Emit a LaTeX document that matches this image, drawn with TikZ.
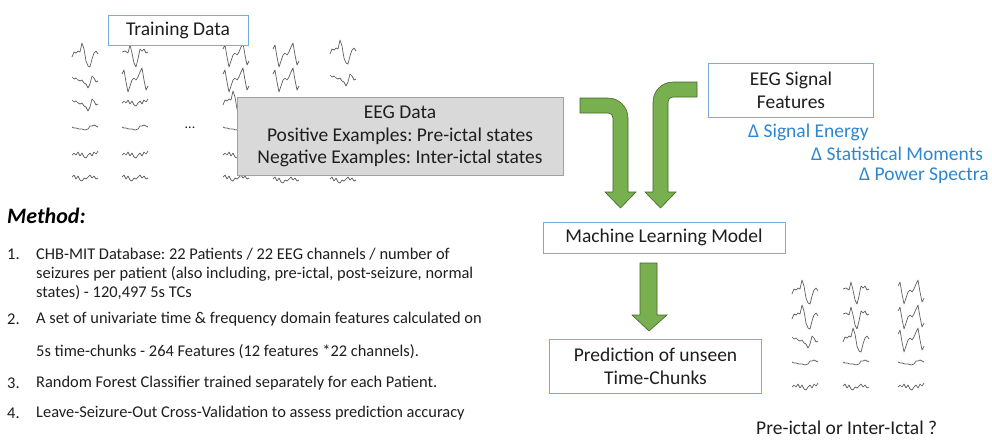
\documentclass[tikz,border=0pt]{standalone}
\usepackage{fontspec}
\setmainfont{Carlito}
\frenchspacing
\definecolor{boxblue}{RGB}{120,170,220}
\definecolor{txt}{RGB}{30,30,30}
\definecolor{dblue}{RGB}{46,134,206}
\definecolor{grayfill}{RGB}{217,217,217}
\definecolor{grayedge}{RGB}{160,160,160}
\definecolor{agreen}{RGB}{120,176,80}
\definecolor{agreenedge}{RGB}{70,100,45}
\definecolor{wavec}{RGB}{95,95,95}
\tikzset{
  bluebox/.style={draw=boxblue, line width=0.9pt, fill=white, align=center, text=txt, font=\fontsize{19.5}{23}\selectfont, inner sep=0pt},
  graybox/.style={draw=grayedge, line width=0.9pt, fill=grayfill, align=center, text=txt, font=\fontsize{19.5}{22.5}\selectfont, inner sep=0pt},
  feat/.style={text=dblue, font=\fontsize{19.5}{22}\selectfont, anchor=west, inner sep=0pt},
  item/.style={text=txt, font=\fontsize{16.4}{19}\selectfont, anchor=west, inner sep=0pt},
  garrow/.style={fill=agreen, draw=agreenedge, line width=0.6pt, line join=miter},
  wave/.style={draw=wavec, line width=0.7pt, line join=round}
}
\newcommand\eegA[2]{\draw[wave,shift={(#1,#2)}] (0,2)--(2,-3)--(4,-2)--(6,-4)--(8,-3)--(10,-12)--(12,-6)--(14,6)--(16,11)--(18,12)--(20,4)--(22,-2)--(24,-4)--(26,-1);}
\newcommand\eegB[2]{\draw[wave,shift={(#1,#2)}] (0,-6)--(2,-10)--(4,2)--(6,12)--(8,6)--(10,0)--(12,-2)--(14,0)--(16,-3)--(18,-8)--(20,-12)--(22,0)--(24,10)--(26,6);}
\newcommand\eegC[2]{\draw[wave,shift={(#1,#2)}] (0,-3)--(2,-1)--(4,-2)--(6,0)--(8,1)--(10,0)--(12,3)--(14,4)--(16,8)--(18,4)--(20,-4)--(22,-2)--(24,2)--(26,1);}
\newcommand\eegD[2]{\draw[wave,shift={(#1,#2)}] (0,-1)--(2,0)--(4,0)--(7,1)--(10,1)--(13,2)--(16,1)--(18,-2)--(20,-2)--(22,-3)--(24,-2)--(26,-1);}
\newcommand\eegE[2]{\draw[wave,shift={(#1,#2)}] (0,0)--(2,-2)--(4,0)--(6,-3)--(8,1)--(10,-2)--(12,2)--(14,3)--(16,0)--(18,-2)--(20,1)--(22,-3)--(24,-1)--(26,-4);}
\newcommand\eegF[2]{\draw[wave,shift={(#1,#2)}] (0,-1)--(2,-3)--(4,1)--(6,-2)--(8,2)--(10,3)--(12,0)--(14,1)--(16,-1)--(18,-3)--(20,0)--(22,-2)--(24,1)--(26,0);}
\newcommand\eegV[2]{\draw[wave,shift={(#1,#2)}] (0,-3)--(3,-4)--(6,-2)--(8,-10)--(10,-2)--(12,8)--(14,12)--(16,4)--(18,-6)--(20,-4)--(22,-6)--(24,-2)--(26,-3);}
\begin{document}
\begin{tikzpicture}[x=1pt,y=-1pt]
\useasboundingbox (0,0) rectangle (992,440);
% training EEG traces
\eegA{72}{55}\eegC{72}{80}\eegC{72}{103}\eegD{72}{128}\eegE{72}{155}\eegF{72}{178}
\eegV{122}{55}\eegB{122}{80}\eegE{122}{103}\eegD{122}{128}\eegE{122}{155}\eegF{122}{178}
\eegB{223}{55}\eegB{223}{80}\eegA{223}{103}\eegD{223}{128}\eegE{223}{155}\eegF{223}{178}
\eegB{273}{55}\eegB{273}{80}\eegF{273}{180}
\eegA{330}{52}\eegC{330}{78}\eegF{330}{180}
\node[text=txt, font=\fontsize{14}{16}\selectfont, inner sep=0pt] (dots) at (190,128) {...};
% boxes
\node[bluebox, minimum width=140pt, minimum height=30pt] (train) at (178,30) {Training Data};
\node[graybox, minimum width=326pt, minimum height=78pt] (eegdata) at (400,136.5)
  {EEG Data\\Positive Examples: Pre-ictal states\\Negative Examples: Inter-ictal states};
\node[bluebox, minimum width=165pt, minimum height=54pt] (feat) at (791,90) {EEG Signal\\Features};
\node[feat] (f1) at (748,132) {Δ Signal Energy};
\node[feat] (f2) at (811,154) {Δ Statistical Moments};
\node[feat] (f3) at (859,176) {Δ Power Spectra};
\node[bluebox, minimum width=242pt, minimum height=31pt] (ml) at (664,237.5) {Machine Learning Model};
\node[bluebox, minimum width=212pt, minimum height=54pt] (pred) at (655.5,366) {Prediction of unseen\\Time-Chunks};
% green arrows
\draw[garrow] (580,98) -- (608,98) .. controls (619,98) and (628,107) .. (628,118)
  -- (628,192) -- (636,192) -- (620.5,208) -- (605,192) -- (613,192) -- (613,118)
  .. controls (613,115) and (611,113) .. (608,113) -- (580,113) -- cycle;
\draw[garrow] (697,82) -- (673,82) .. controls (662,82) and (653,91) .. (653,102)
  -- (653,192) -- (645,192) -- (660.5,208) -- (676,192) -- (668,192) -- (668,102)
  .. controls (668,99) and (670,97) .. (673,97) -- (697,97) -- cycle;
\draw[garrow] (640,263) -- (657,263) -- (657,315) -- (667,315) -- (649,331) -- (632,315) -- (640,315) -- cycle;
% test EEG traces
\eegA{792}{292}\eegA{792}{317}\eegC{792}{340}\eegD{792}{363}\eegE{792}{387}
\eegV{843}{292}\eegV{843}{317}\eegA{843}{340}\eegD{843}{363}\eegF{843}{387}
\eegB{898}{292}\eegB{898}{317}\eegB{898}{340}\eegD{898}{363}\eegE{898}{387}
\node[text=txt, font=\fontsize{19.5}{22}\selectfont, anchor=west, inner sep=0pt] (q) at (756,428) {Pre-ictal or Inter-Ictal ?};
% method
\node[text=black, font=\fontsize{22}{24}\bfseries\itshape\selectfont, anchor=west, inner sep=0pt] (meth) at (7,216) {Method:};
\node[item] (n1) at (7,254) {1.};
\node[item] (t1a) at (36,254) {CHB-MIT Database: 22 Patients / 22 EEG channels / number of};
\node[item] (t1b) at (36,273.5) {seizures per patient (also including, pre-ictal, post-seizure, normal};
\node[item] (t1c) at (36,293) {states) - 120,497 5s TCs};
\node[item] (n2) at (7,319) {2.};
\node[item] (t2a) at (36,319) {A set of univariate time \& frequency domain features calculated on};
\node[item] (t2b) at (36,352) {5s time-chunks - 264 Features (12 features *22 channels).};
\node[item] (n3) at (7,383) {3.};
\node[item] (t3) at (36,383) {Random Forest Classifier trained separately for each Patient.};
\node[item] (n4) at (7,413) {4.};
\node[item] (t4) at (36,413) {Leave-Seizure-Out Cross-Validation to assess prediction accuracy};
\end{tikzpicture}
\end{document}
